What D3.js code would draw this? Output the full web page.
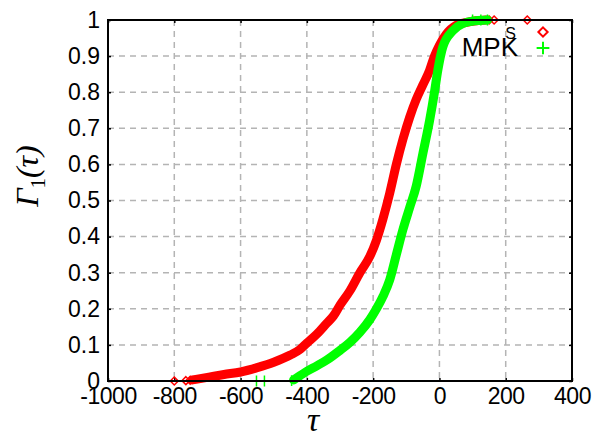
<!DOCTYPE html>
<html>
<head>
<meta charset="utf-8">
<script src="https://cdn.jsdelivr.net/npm/d3@7"></script>
<style>
  body { margin: 0; background: #fff; }
  svg { display: block; }
  .axis text { font-family: "Liberation Sans", Arial, sans-serif; font-size: 23px; fill: #000; }
  .axis path { display: none; }
  .axis line { stroke: #000; stroke-width: 1.5; }
</style>
</head>
<body>
<div id="chart"></div>
<script>
// values
const xTicks = [-1000, -800, -600, -400, -200, 0, 200, 400];
const yTicks = [0, 0.1, 0.2, 0.3, 0.4, 0.5, 0.6, 0.7, 0.8, 0.9, 1];

const sTau = [-745, -700, -650, -600, -550, -500, -450, -420, -400, -370, -340, -320, -300, -270, -240, -210, -190, -170, -150, -130, -110, -90, -70, -50, -30, -15, 0, 20, 50, 90, 140];
const sF = [0.003, 0.01, 0.018, 0.025, 0.037, 0.052, 0.072, 0.088, 0.105, 0.13, 0.16, 0.18, 0.21, 0.25, 0.3, 0.345, 0.39, 0.45, 0.52, 0.6, 0.67, 0.73, 0.78, 0.82, 0.86, 0.9, 0.93, 0.96, 0.985, 0.995, 1];

const mpkTau = [-440, -420, -400, -370, -340, -300, -270, -240, -210, -190, -170, -150, -130, -110, -90, -70, -50, -30, -15, -5, 10, 40, 70, 110, 145];
const mpkF = [0.003, 0.015, 0.027, 0.042, 0.058, 0.085, 0.107, 0.135, 0.17, 0.2, 0.235, 0.28, 0.35, 0.42, 0.48, 0.54, 0.63, 0.72, 0.8, 0.86, 0.925, 0.97, 0.99, 0.998, 1];

// stray markers away from the dense bands
const sOutTau = [-800, -765, -752, 150, 165, 265];
const sOutF = [0, 0.001, 0.002, 1, 1, 1];
const mpkOutTau = [-552, -528, -446, 100, 125, 145];
const mpkOutF = [0, 0, 0.001, 1, 1, 1];

const series = [
  { name: "S", tau: sTau, F: sF, outTau: sOutTau, outF: sOutF, color: "#ff0000", symbol: d3.symbolDiamond2 },
  { name: "MPK", tau: mpkTau, F: mpkF, outTau: mpkOutTau, outF: mpkOutF, color: "#00ff00", symbol: d3.symbolPlus || d3.symbolCross }
];

const margin = { top: 20, right: 25, bottom: 58, left: 108 };
const width = 597 - margin.left - margin.right;
const height = 439 - margin.top - margin.bottom;

const svg = d3.select("#chart").append("svg")
    .attr("width", 597)
    .attr("height", 439);

const g = svg.append("g")
    .attr("transform", "translate(" + margin.left + "," + margin.top + ")");

const x = d3.scaleLinear().domain([-1000, 400]).range([0, width]);
const y = d3.scaleLinear().domain([0, 1]).range([height, 0]);

// dashed grid
g.append("g").selectAll("line")
    .data(xTicks.slice(1, -1))
    .join("line")
    .attr("x1", d => x(d)).attr("x2", d => x(d))
    .attr("y1", 0).attr("y2", height)
    .attr("stroke", "#b4b4b4").attr("stroke-width", 1.5)
    .attr("stroke-dasharray", "6,5");

g.append("g").selectAll("line")
    .data(yTicks.slice(1, -1))
    .join("line")
    .attr("y1", d => y(d)).attr("y2", d => y(d))
    .attr("x1", 0).attr("x2", width)
    .attr("stroke", "#b4b4b4").attr("stroke-width", 1.5)
    .attr("stroke-dasharray", "6,5");

// axes with inward ticks
g.append("g").attr("class", "axis")
    .attr("transform", "translate(0," + height + ")")
    .call(d3.axisBottom(x).tickValues(xTicks).tickSize(-3).tickPadding(7).tickFormat(d => String(d)))
    .selectAll("text").attr("letter-spacing", -0.5);

g.append("g").attr("class", "axis")
    .call(d3.axisTop(x).tickValues(xTicks).tickSize(-3).tickFormat(""));

g.append("g").attr("class", "axis")
    .call(d3.axisLeft(y).tickValues(yTicks).tickSize(-3).tickPadding(8).tickFormat(d => d === 0 || d === 1 ? String(d) : d3.format(".1f")(d)));

g.append("g").attr("class", "axis")
    .attr("transform", "translate(" + width + ",0)")
    .call(d3.axisRight(y).tickValues(yTicks).tickSize(-3).tickFormat(""));

// data bands
const line = d3.line()
    .x(d => x(d[0]))
    .y(d => y(d[1]))
    .curve(d3.curveMonotoneX);

series.forEach(s => {
    const pts = s.tau.map((t, i) => [t, s.F[i]]);
    g.append("path")
        .datum(pts)
        .attr("fill", "none")
        .attr("stroke", s.color)
        .attr("stroke-width", 9)
        .attr("stroke-linejoin", "round")
        .attr("stroke-linecap", "round")
        .attr("d", line);

    const out = s.outTau.map((t, i) => [t, s.outF[i]]);
    g.append("g").selectAll("path")
        .data(out)
        .join("path")
        .attr("transform", d => "translate(" + x(d[0]) + "," + y(d[1]) + ")")
        .attr("d", d3.symbol().type(s.symbol).size(40))
        .attr("fill", "none")
        .attr("stroke", s.color)
        .attr("stroke-width", 1.5);
});

// frame
g.append("rect")
    .attr("width", width).attr("height", height)
    .attr("fill", "none").attr("stroke", "#000").attr("stroke-width", 2);

// legend
const legend = g.append("g");
legend.append("text")
    .attr("x", 408).attr("y", 19)
    .attr("text-anchor", "end")
    .attr("font-family", "Liberation Sans, Arial, sans-serif")
    .attr("font-size", 16)
    .text(series[0].name);
legend.append("text")
    .attr("x", 410).attr("y", 36)
    .attr("text-anchor", "end")
    .attr("font-family", "Liberation Sans, Arial, sans-serif")
    .attr("font-size", 26)
    .text(series[1].name);
series.forEach((s, i) => {
    legend.append("path")
        .attr("transform", "translate(435," + (12 + i * 16) + ")")
        .attr("d", d3.symbol().type(s.symbol).size(55))
        .attr("fill", "none")
        .attr("stroke", s.color)
        .attr("stroke-width", 2);
});

// axis titles
svg.append("text")
    .attr("x", 313).attr("y", 431)
    .attr("text-anchor", "middle")
    .attr("font-family", "Liberation Serif, Times New Roman, serif")
    .attr("font-style", "italic")
    .attr("font-size", 34)
    .text("τ");

const yt = svg.append("text")
    .attr("transform", "translate(38,176) rotate(-90)")
    .attr("text-anchor", "middle")
    .attr("font-family", "Liberation Serif, Times New Roman, serif")
    .attr("font-style", "italic")
    .attr("font-size", 32);
yt.append("tspan").text("Γ");
yt.append("tspan").attr("font-size", 21).attr("font-style", "normal").attr("dy", 7).text("1");
yt.append("tspan").attr("dy", -7).text("(τ)");
</script>
</body>
</html>
